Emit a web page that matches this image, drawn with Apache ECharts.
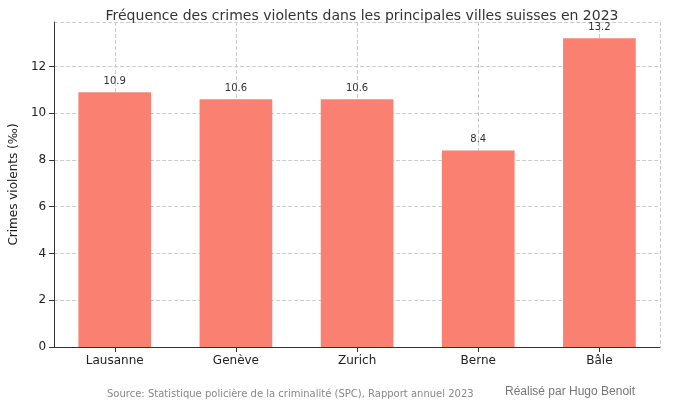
<!DOCTYPE html><html><head><meta charset="utf-8"><script src="https://cdn.jsdelivr.net/npm/echarts@6/dist/echarts.min.js"></script></head><body style="margin:0"><div id="c" style="width:680px;height:406px"></div><script>
const categories=['Lausanne','Genève','Zurich','Berne','Bâle'];
const values=[10.9,10.6,10.6,8.4,13.2];
const c=echarts.init(document.getElementById('c'));
const ff='DejaVu Sans';
c.setOption({
textStyle:{fontFamily:ff},
title:{text:'Fréquence des crimes violents dans les principales villes suisses en 2023',left:357,top:4,textAlign:'center',textStyle:{fontSize:14,fontWeight:'normal',color:'#333',fontFamily:ff}},
grid:{left:42,right:20,top:22,bottom:59},
xAxis:[{type:'category',data:categories,axisLine:{lineStyle:{color:'#333'}},axisTick:{show:true,alignWithLabel:true,lineStyle:{color:'#333'}},axisLabel:{color:'#222',fontSize:12},splitLine:{show:false}},
{type:'category',data:Array(10).fill(''),position:'bottom',axisLine:{show:false},axisTick:{show:false},axisLabel:{show:false},splitLine:{show:true,interval:i=>i%2===1,lineStyle:{type:'dashed',color:'#ccc'}}}],
yAxis:{type:'value',min:0,max:13.9,interval:2,name:'Crimes violents (‰)',nameLocation:'middle',nameGap:26,nameTextStyle:{fontSize:12,color:'#222'},axisLine:{show:true,lineStyle:{color:'#333'}},axisTick:{show:true},axisLabel:{color:'#222',fontSize:12,showMaxLabel:false},splitLine:{lineStyle:{type:'dashed',color:'#ccc'}}},
series:[{type:'bar',data:values,barWidth:'60%',itemStyle:{color:'#FA8072'},label:{show:true,position:'top',distance:6,fontSize:10,color:'#333'}}],
graphic:[{type:'text',left:107,top:389,style:{text:'Source: Statistique policière de la criminalité (SPC), Rapport annuel 2023',fontSize:10,fill:'#888',fontFamily:ff}},
{type:'text',left:505,top:386,style:{text:'Réalisé par Hugo Benoit',fontSize:12,fill:'#777',fontFamily:'Liberation Sans'}}]
});
</script></body></html>
